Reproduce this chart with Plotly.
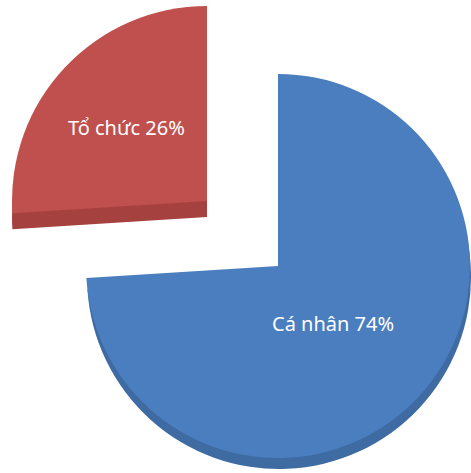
import plotly.graph_objects as go

labels = ['Cá nhân', 'Tổ chức']
values = [74, 26]
face_colors = ['#4a7ebf', '#c0504d']
side_colors = ['#3f6ba3', '#a5423f']

W, H = 471, 473
CLEAR = 'rgba(0,0,0,0)'


def box(cx, cy, r):
    # pixel centre/radius -> pie domain in paper coords (clamped to [0, 1])
    x0, x1 = (cx - r) / W, (cx + r) / W
    y0, y1 = 1 - (cy + r) / H, 1 - (cy - r) / H
    clamp = lambda v: min(max(v, 0), 1)
    return dict(x=[clamp(x0), clamp(x1)], y=[clamp(y0), clamp(y1)])


def pie(colors, domain):
    return go.Pie(
        labels=labels, values=values, sort=False, direction='clockwise', rotation=0,
        marker=dict(colors=colors, line=dict(width=0)),
        textinfo='none', hoverinfo='skip', showlegend=False, domain=domain,
    )


fig = go.Figure()

# blue slice: side (darker, shifted down) then top face
fig.add_trace(pie([side_colors[0], CLEAR], box(279, 277, 192)))
fig.add_trace(pie([face_colors[0], CLEAR], box(278, 266, 192)))
# red slice pulled out to upper left
fig.add_trace(pie([CLEAR, side_colors[1]], box(207, 217, 195)))
fig.add_trace(pie([CLEAR, face_colors[1]], box(207, 201, 195)))

label_pos = [(333, 323), (126, 128)]
for name, v, (px, py) in zip(labels, values, label_pos):
    fig.add_annotation(
        x=px / W, y=1 - py / H, xref='paper', yref='paper',
        xanchor='center', yanchor='middle',
        text=f'{name} {v}%', showarrow=False,
        font=dict(family='Noto Sans', size=20, color='white'),
    )

fig.update_layout(
    width=W, height=H,
    margin=dict(l=0, r=0, t=0, b=0),
    paper_bgcolor='white', plot_bgcolor='white',
)

# drop the default 8px page margin so the figure sits at the window corner
fig.write_html('out.html', post_script="document.body.style.margin='0';",
               config={'displayModeBar': False})
